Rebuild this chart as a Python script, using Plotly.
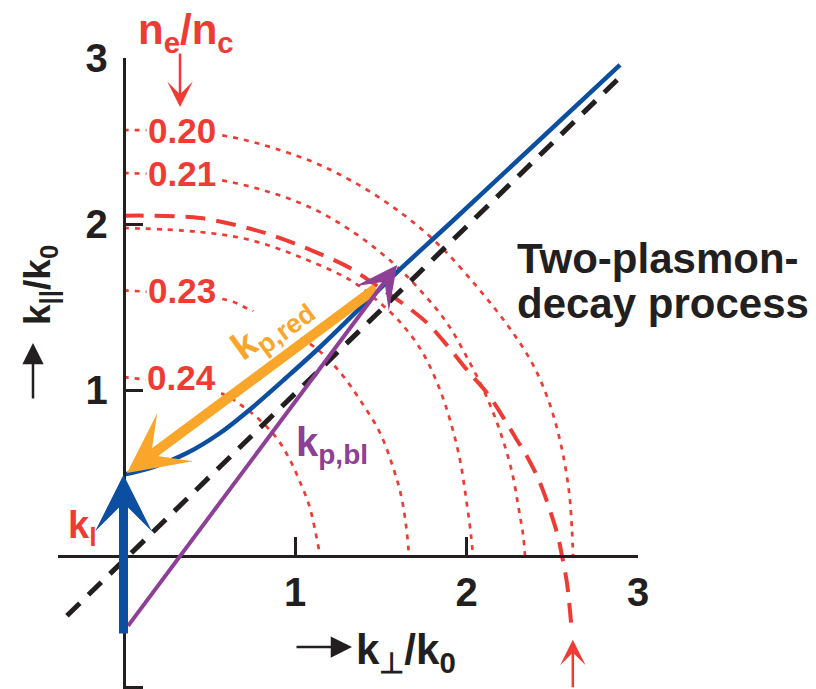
import plotly.graph_objects as go

W, H = 816, 689

RED = "#EE3B34"
ORANGE = "#F9A62A"
BLUE = "#0C4FA0"
PURPLE = "#8E3F96"
INK = "#231F20"
FONT = "Liberation Sans, Arial, sans-serif"

# ---- data -------------------------------------------------------------
x_ticks = [1, 2, 3]
y_ticks = [1, 2, 3]

# constant-density contours n_e/n_c, points (k_perp/k0, k_par/k0)
dens_labels = ["0.20", "0.21", "0.22", "0.23", "0.24"]
dens_shown = [True, True, False, True, True]

arc_020_x = [0.0, 0.563, 1.029, 1.321, 1.612, 1.846, 2.067, 2.242, 2.382, 2.481, 2.551, 2.598, 2.615, 2.621]
arc_020_y = [2.566, 2.536, 2.404, 2.265, 2.072, 1.867, 1.614, 1.386, 1.163, 0.928, 0.669, 0.386, 0.157, 0.0]

arc_021_x = [0.0, 0.563, 1.029, 1.321, 1.571, 1.729, 1.886, 2.02, 2.12, 2.201, 2.265, 2.306, 2.33, 2.341]
arc_021_y = [2.307, 2.265, 2.127, 1.964, 1.765, 1.602, 1.404, 1.163, 0.952, 0.735, 0.506, 0.277, 0.127, 0.0]

arc_022_x = [0.0, 0.446, 0.738, 1.029, 1.321, 1.455, 1.601, 1.735, 1.834, 1.904, 1.962, 2.003, 2.026, 2.038]
arc_022_y = [1.976, 1.952, 1.904, 1.801, 1.663, 1.56, 1.422, 1.241, 1.03, 0.819, 0.578, 0.307, 0.127, 0.0]

arc_023_x = [0.0, 0.603, 0.738, 0.953, 1.128, 1.262, 1.379, 1.496, 1.571, 1.618, 1.647, 1.665]
arc_023_y = [1.60, 1.542, 1.482, 1.361, 1.247, 1.108, 0.94, 0.741, 0.536, 0.367, 0.187, 0.0]

arc_024_x = [0.0, 0.563, 0.708, 0.813, 0.901, 0.971, 1.029, 1.082, 1.117, 1.146]
arc_024_y = [1.078, 0.982, 0.892, 0.801, 0.699, 0.578, 0.446, 0.307, 0.157, 0.0]

arcs_x = [arc_020_x, arc_021_x, arc_022_x, arc_023_x, arc_024_x]
arcs_y = [arc_020_y, arc_021_y, arc_022_y, arc_023_y, arc_024_y]

# quarter-critical resonance curve (long dashes)
res_x = [0.0, 0.446, 0.825, 1.134, 1.321, 1.478, 1.63, 1.77, 1.886, 2.003, 2.12, 2.213, 2.294, 2.353,
         2.429, 2.528, 2.557, 2.586, 2.615]
res_y = [2.05, 2.036, 1.946, 1.825, 1.735, 1.627, 1.52, 1.404, 1.27, 1.12, 0.982, 0.837, 0.699, 0.60,
         0.44, 0.139, 0.0, -0.163, -0.464]

# maximum-growth curve
growth_x = [0.0, 0.172, 0.37, 0.563, 0.755, 0.953, 1.146, 1.6, 1.9, 2.895]
growth_y = [0.49, 0.536, 0.62, 0.741, 0.898, 1.078, 1.259, 1.715, 2.0, 2.958]

# k_perp = k_par diagonal
diag_x = [-0.33, 2.92]
diag_y = [-0.36, 2.91]

# wave vectors (tail -> head)
k_laser = [(0.0, -0.476), (0.0, 0.49)]
k_blue = [(0.02, -0.43), (1.595, 1.753)]
k_red = [(1.48, 1.62), (0.02, 0.50)]

# ---- figure -----------------------------------------------------------
fig = go.Figure()

for ax_, ay_ in zip(arcs_x, arcs_y):
    fig.add_trace(go.Scatter(
        x=ax_, y=ay_, mode="lines", hoverinfo="skip",
        line=dict(color=RED, width=2.7, dash="5px,6px", shape="spline", smoothing=1.0)))

fig.add_trace(go.Scatter(
    x=res_x, y=res_y, mode="lines", hoverinfo="skip",
    line=dict(color=RED, width=4, dash="20px,11px", shape="spline", smoothing=0.9)))

fig.add_trace(go.Scatter(
    x=diag_x, y=diag_y, mode="lines", hoverinfo="skip",
    line=dict(color=INK, width=5, dash="18px,12px")))

fig.add_trace(go.Scatter(
    x=growth_x, y=growth_y, mode="lines", hoverinfo="skip",
    line=dict(color=BLUE, width=4.5, shape="spline", smoothing=0.8)))


def px_x(p):
    return p / W


def px_y(p):
    return 1 - p / H


ann = []

# density labels on the contours
for lab, show, ax_, ay_ in zip(dens_labels, dens_shown, arcs_x, arcs_y):
    if show:
        ann.append(dict(x=0.341, y=ay_[0], xref="x", yref="y", text=lab, showarrow=False,
                        font=dict(family=FONT, size=35, color=RED, weight="bold"),
                        bgcolor="white", borderpad=1, xanchor="center", yanchor="middle"))

# k_p,red label (rotated along its arrow)
ann.append(dict(x=0.866, y=1.373, xref="x", yref="y", text="k<sub>p,red</sub>", showarrow=False,
                textangle=-36, font=dict(family=FONT, size=38, color=ORANGE, weight="bold"),
                bgcolor="white", borderpad=0, xanchor="center", yanchor="middle"))

# wave-vector arrows
ann.append(dict(x=k_red[1][0], y=k_red[1][1], ax=k_red[0][0], ay=k_red[0][1],
                xref="x", yref="y", axref="x", ayref="y", text="", showarrow=True,
                arrowhead=3, arrowsize=1.0, arrowwidth=10, arrowcolor=ORANGE, standoff=0))
ann.append(dict(x=k_blue[1][0], y=k_blue[1][1], ax=k_blue[0][0], ay=k_blue[0][1],
                xref="x", yref="y", axref="x", ayref="y", text="", showarrow=True,
                arrowhead=3, arrowsize=1.75, arrowwidth=4, arrowcolor=PURPLE, standoff=0))
ann.append(dict(x=k_laser[1][0], y=k_laser[1][1], ax=k_laser[0][0], ay=k_laser[0][1],
                xref="x", yref="y", axref="x", ayref="y", text="", showarrow=True,
                arrowhead=3, arrowsize=1.05, arrowwidth=9, arrowcolor=BLUE, standoff=0))

ann.append(dict(x=1.218, y=0.669, xref="x", yref="y", text="k<sub>p,bl</sub>", showarrow=False,
                font=dict(family=FONT, size=40, color=PURPLE, weight="bold"),
                xanchor="center", yanchor="middle"))
ann.append(dict(x=-0.24, y=0.17, xref="x", yref="y", text="k<sub>l</sub>", showarrow=False,
                font=dict(family=FONT, size=38, color=RED, weight="bold"),
                xanchor="center", yanchor="middle"))

# density axis marker
ann.append(dict(x=px_x(186), y=px_y(32), xref="paper", yref="paper", text="n<sub>e</sub>/n<sub>c</sub>",
                showarrow=False, font=dict(family=FONT, size=42, color=RED, weight="bold"),
                xanchor="center", yanchor="middle"))
ann.append(dict(x=px_x(180), y=px_y(107), xref="paper", yref="paper", ax=0, ay=-55, text="",
                xanchor="center", yanchor="middle",
                showarrow=True, arrowhead=3, arrowsize=1.7, arrowwidth=2.5, arrowcolor=RED, standoff=0))
ann.append(dict(x=2.62, y=-0.505, ax=2.62, ay=-0.80, xref="x", yref="y", axref="x", ayref="y",
                text="", showarrow=True, arrowhead=3, arrowsize=1.7, arrowwidth=2.5,
                arrowcolor=RED, standoff=0))

# axis titles
ann.append(dict(x=px_x(352), y=px_y(647), xref="paper", yref="paper", ax=-57, ay=0, text="",
                xanchor="center", yanchor="middle",
                showarrow=True, arrowhead=2, arrowsize=1.7, arrowwidth=2.5, arrowcolor=INK, standoff=0))
ann.append(dict(x=px_x(354), y=px_y(652), xref="paper", yref="paper", xanchor="left", yanchor="middle",
                text="k<sub>⊥</sub>/k<sub>0</sub>", showarrow=False,
                font=dict(family=FONT, size=42, color=INK, weight="bold")))
ann.append(dict(x=px_x(33), y=px_y(343), xref="paper", yref="paper", ax=0, ay=57, text="",
                xanchor="center", yanchor="middle",
                showarrow=True, arrowhead=2, arrowsize=1.7, arrowwidth=2.5, arrowcolor=INK, standoff=0))
ann.append(dict(x=px_x(40), y=px_y(285), xref="paper", yref="paper", textangle=-90,
                xanchor="center", yanchor="middle",
                text="k<sub>||</sub>/k<sub>0</sub>", showarrow=False,
                font=dict(family=FONT, size=37, color=INK, weight="bold")))

# process caption
ann.append(dict(x=px_x(515), y=px_y(258), xref="paper", yref="paper", xanchor="left", yanchor="middle",
                text="Two-plasmon-", showarrow=False,
                font=dict(family=FONT, size=42, color=INK, weight="bold")))
ann.append(dict(x=px_x(515), y=px_y(304), xref="paper", yref="paper", xanchor="left", yanchor="middle",
                text="decay process", showarrow=False,
                font=dict(family=FONT, size=42, color=INK, weight="bold")))

fig.update_layout(
    template="none",
    width=W, height=H, margin=dict(l=0, r=0, t=0, b=0, pad=0, autoexpand=False),
    paper_bgcolor="white", plot_bgcolor="white", showlegend=False,
    annotations=ann,
    xaxis=dict(domain=[58 / W, 638 / W], range=[-0.382, 3.0], anchor="free", position=1 - 556 / H,
               automargin=False,
               showline=True, linewidth=2.7, linecolor=INK, ticks="inside", ticklen=18,
               tickwidth=2.7, tickcolor=INK, tickvals=x_ticks, ticktext=[str(v) for v in x_ticks],
               showgrid=False, zeroline=False, ticklabelstandoff=0,
               tickfont=dict(family=FONT, size=40, color=INK, weight="bold")),
    yaxis=dict(domain=[0, 1 - 58 / H], range=[-0.8012, 3.0], anchor="free", position=123.5 / W,
               automargin=False,
               showline=True, linewidth=2.7, linecolor=INK, ticks="inside", ticklen=18,
               tickwidth=2.7, tickcolor=INK, tickvals=[-0.795] + y_ticks,
               ticktext=[""] + [str(v) for v in y_ticks],
               showgrid=False, zeroline=False, ticklabelstandoff=7,
               tickfont=dict(family=FONT, size=40, color=INK, weight="bold")),
)

fig.write_html("out.html")
